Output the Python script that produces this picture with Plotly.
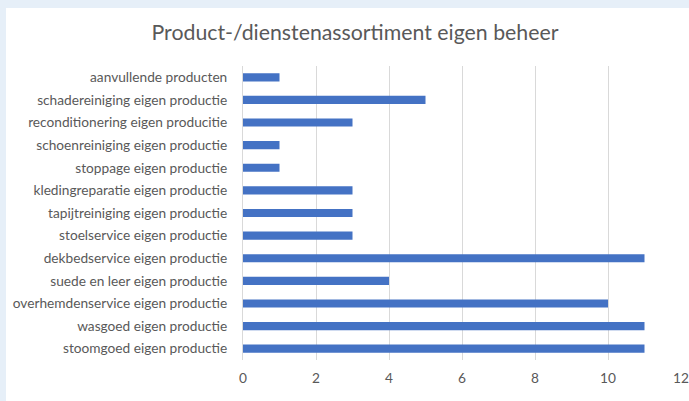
import plotly.graph_objects as go

categories = [
    "aanvullende producten",
    "schadereiniging eigen productie",
    "reconditionering eigen producitie",
    "schoenreiniging eigen productie",
    "stoppage eigen productie",
    "kledingreparatie eigen productie",
    "tapijtreiniging eigen productie",
    "stoelservice eigen productie",
    "dekbedservice eigen productie",
    "suede en leer eigen productie",
    "overhemdenservice eigen productie",
    "wasgoed eigen productie",
    "stoomgoed eigen productie",
]
values = [1, 5, 3, 1, 1, 3, 3, 3, 11, 4, 10, 11, 11]
x_ticks = [0, 2, 4, 6, 8, 10, 12]

W, H = 689, 401
ml, mr, mt, mb = 243, 8, 66, 41
pw, ph = W - ml - mr, H - mt - mb

fig = go.Figure(go.Bar(
    y=categories, x=values, orientation="h",
    marker=dict(color="#4472c4", line=dict(width=0)),
))

font_family = "Lato, 'Open Sans', sans-serif"
fig.update_layout(
    width=W, height=H,
    margin=dict(l=ml, r=mr, t=mt, b=mb, autoexpand=False),
    paper_bgcolor="#e6eff8",
    plot_bgcolor="white",
    bargap=0.64,
    showlegend=False,
    title=dict(text="Product-/dienstenassortiment eigen beheer",
               x=355 / W, xref="container", xanchor="center", y=1 - 33 / H, yref="container",
               yanchor="middle",
               font=dict(family=font_family, size=21.3, color="#595959")),
    font=dict(family=font_family, size=13.7, color="#595959"),
    xaxis=dict(range=[0, 12], tickvals=x_ticks, showgrid=True, gridcolor="#d9d9d9",
               gridwidth=1, zeroline=False, showline=False, ticks="", automargin=False,
               ticklabelstandoff=8,
               tickfont=dict(size=13.7, color="#595959"), fixedrange=True),
    yaxis=dict(autorange="reversed", showgrid=False, showline=True, linecolor="#d9d9d9",
               ticks="", ticklabelstandoff=12, automargin=False,
               tickfont=dict(size=13.7, color="#595959")),
    shapes=[dict(type="rect", xref="paper", yref="paper", layer="below",
                 x0=(6 - ml) / pw, x1=(W + 5 - ml) / pw,
                 y0=-(H + 5 - mt - ph) / ph, y1=(H - 8 - mb) / ph,
                 fillcolor="white", line=dict(width=0))],
)
fig.write_html("out.html")
